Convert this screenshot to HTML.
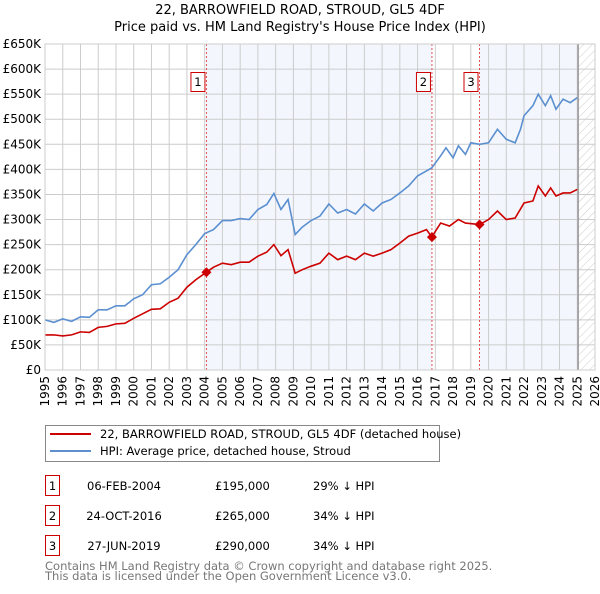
<!DOCTYPE html>
<html><head><meta charset="utf-8"><style>
body{margin:0;background:#fff;font-family:"DejaVu Sans","Liberation Sans",sans-serif;}
svg text{font-family:"DejaVu Sans","Liberation Sans",sans-serif;}
</style></head><body>
<svg id="c" width="600" height="590" xmlns="http://www.w3.org/2000/svg">
<defs><pattern id="hatch" width="6" height="6" patternUnits="userSpaceOnUse" patternTransform="rotate(45)"><line x1="0" y1="0" x2="0" y2="6" stroke="#ccc" stroke-width="1"/></pattern></defs>
<text x="300" y="14" text-anchor="middle" font-size="13">22, BARROWFIELD ROAD, STROUD, GL5 4DF</text>
<text x="300" y="31" text-anchor="middle" font-size="13">Price paid vs. HM Land Registry's House Price Index (HPI)</text>
<g id="plot"></g>
<g>
<rect x="45.5" y="425.5" width="394" height="36" fill="#fff" stroke="#888"/>
<line x1="50" y1="434" x2="91" y2="434" stroke="#cc0000" stroke-width="2"/>
<text x="100" y="438" font-size="11.5">22, BARROWFIELD ROAD, STROUD, GL5 4DF (detached house)</text>
<line x1="50" y1="451" x2="91" y2="451" stroke="#5b8fd0" stroke-width="2"/>
<text x="100" y="455" font-size="11.5">HPI: Average price, detached house, Stroud</text>
</g>
<g font-size="11.5">
<rect x="45.5" y="475.5" width="14" height="20" fill="#fff" stroke="#cc0000"/><text x="52.5" y="490" text-anchor="middle">1</text>
<text x="124" y="490" text-anchor="middle">06-FEB-2004</text><text x="215" y="490">£195,000</text><text x="313" y="490">29% ↓ HPI</text>
<rect x="45.5" y="505.5" width="14" height="20" fill="#fff" stroke="#cc0000"/><text x="52.5" y="520" text-anchor="middle">2</text>
<text x="124" y="520" text-anchor="middle">24-OCT-2016</text><text x="215" y="520">£265,000</text><text x="313" y="520">34% ↓ HPI</text>
<rect x="45.5" y="535.5" width="14" height="20" fill="#fff" stroke="#cc0000"/><text x="52.5" y="550" text-anchor="middle">3</text>
<text x="124" y="550" text-anchor="middle">27-JUN-2019</text><text x="215" y="550">£290,000</text><text x="313" y="550">34% ↓ HPI</text>
</g>
<text x="45" y="570" font-size="11.5" fill="#777">Contains HM Land Registry data © Crown copyright and database right 2025.</text>
<text x="45" y="580" font-size="11.5" fill="#777">This data is licensed under the Open Government Licence v3.0.</text>
</svg>
<script>
const hpiYears=[1995,1995.5,1996,1996.5,1997,1997.5,1998,1998.5,1999,1999.5,2000,2000.5,2001,2001.5,2002,2002.5,2003,2003.5,2004,2004.5,2005,2005.5,2006,2006.5,2007,2007.5,2007.9,2008.3,2008.7,2009.1,2009.5,2010,2010.5,2011,2011.5,2012,2012.5,2013,2013.5,2014,2014.5,2015,2015.5,2016,2016.5,2016.8,2017.3,2017.6,2018,2018.3,2018.7,2019,2019.5,2020,2020.5,2021,2021.5,2021.8,2022,2022.5,2022.8,2023.2,2023.5,2023.8,2024.2,2024.6,2025.0];
const hpiValues=[100,95,102,97,106,105,120,120,128,128,142,150,170,172,185,200,230,250,272,280,298,298,302,300,320,330,352,320,340,270,285,298,307,331,313,320,311,331,317,333,340,353,367,387,397,403,427,443,423,447,430,453,450,453,480,460,453,480,507,527,550,527,547,520,540,533,543];
const propYears=[1995,1995.5,1996,1996.5,1997,1997.5,1998,1998.5,1999,1999.5,2000,2000.5,2001,2001.5,2002,2002.5,2003,2003.5,2004.1,2004.5,2005,2005.5,2006,2006.5,2007,2007.5,2007.9,2008.3,2008.7,2009.1,2009.5,2010,2010.5,2011,2011.5,2012,2012.5,2013,2013.5,2014,2014.5,2015,2015.5,2016,2016.5,2016.8,2017.3,2017.8,2018.3,2018.7,2019.5,2020,2020.5,2021,2021.5,2022,2022.5,2022.8,2023.2,2023.5,2023.8,2024.2,2024.6,2025.0];
const propValues=[70,70,68,70,76,75,85,87,92,93,103,112,121,122,135,143,165,180,195,205,213,210,215,215,227,235,250,228,240,193,200,207,213,233,220,227,220,233,227,233,240,253,267,273,280,265,293,287,300,293,290,300,317,300,303,333,337,367,347,363,347,353,353,360];
const saleYears=[2004.1,2016.81,2019.49];
const saleValues=[195,265,290];
const saleLabels=["1","2","3"];
const yTicks=[0,50,100,150,200,250,300,350,400,450,500,550,600,650];
const yTickLabels=["£0","£50K","£100K","£150K","£200K","£250K","£300K","£350K","£400K","£450K","£500K","£550K","£600K","£650K"];
const xTicks=[];for(let y=1995;y<=2026;y++)xTicks.push(y);
const dataEnd=2025.05;
const L=45,R=595,T=44,B=370;
const X=v=>L+(v-1995)/(2026-1995)*(R-L);
const Y=v=>B-v/650*(B-T);
const g=document.getElementById('plot');const NS='http://www.w3.org/2000/svg';
function mk(t,a,p){const e=document.createElementNS(NS,t);for(const k in a)e.setAttribute(k,a[k]);(p||g).appendChild(e);return e;}
let e;
e=mk('rect',{x:X(saleYears[0]),y:T,width:X(saleYears[1])-X(saleYears[0]),height:B-T,fill:'#eef3fc',opacity:0.7});


e=mk('rect',{x:X(saleYears[2]),y:T,width:X(dataEnd)-X(saleYears[2]),height:B-T,fill:'#eef3fc',opacity:0.7});


e=mk('rect',{x:X(dataEnd),y:T,width:R-X(dataEnd),height:B-T,fill:'url(#hatch)'});


xTicks.forEach(v=>{e=mk('line',{x1:X(v),x2:X(v),y1:T,y2:B,stroke:'#ccc','stroke-width':1});


e=mk('text',{x:0,y:0,'font-size':12,'text-anchor':'end',transform:`translate(${X(v)+4},${B+6}) rotate(-90)`});e.textContent=v;

});
yTicks.forEach((v,i)=>{e=mk('line',{x1:L,x2:R,y1:Y(v),y2:Y(v),stroke:'#ccc','stroke-width':1});


e=mk('text',{x:L-4,y:Y(v)+4,'font-size':12,'text-anchor':'end'});e.textContent=yTickLabels[i];

});
e=mk('line',{x1:X(dataEnd),x2:X(dataEnd),y1:T,y2:B,stroke:'#999','stroke-width':1.5});


saleYears.forEach((v,i)=>{e=mk('line',{x1:X(v),x2:X(v),y1:T,y2:B,stroke:'#e05050','stroke-dasharray':'2,2','stroke-width':1});

});
e=mk('polyline',{points:hpiYears.map((v,i)=>X(v)+','+Y(hpiValues[i])).join(' '),fill:'none',stroke:'#5b8fd0','stroke-width':1.6});


e=mk('polyline',{points:propYears.map((v,i)=>X(v)+','+Y(propValues[i])).join(' '),fill:'none',stroke:'#cc0000','stroke-width':1.6});


saleYears.forEach((v,i)=>{const cx=X(v),cy=Y(saleValues[i]);
e=mk('polygon',{points:`${cx},${cy-5} ${cx+5},${cy} ${cx},${cy+5} ${cx-5},${cy}`,fill:'#cc0000'});


e=mk('rect',{x:cx-15.5,y:72.5,width:14,height:19,fill:'#fff',stroke:'#cc0000'});


e=mk('text',{x:cx-8.5,y:86,'font-size':11.5,'text-anchor':'middle'});e.textContent=saleLabels[i];

});
e=mk('rect',{x:L,y:T,width:R-L,height:B-T,fill:'none',stroke:'#ccc'});


</script>
</body></html>
